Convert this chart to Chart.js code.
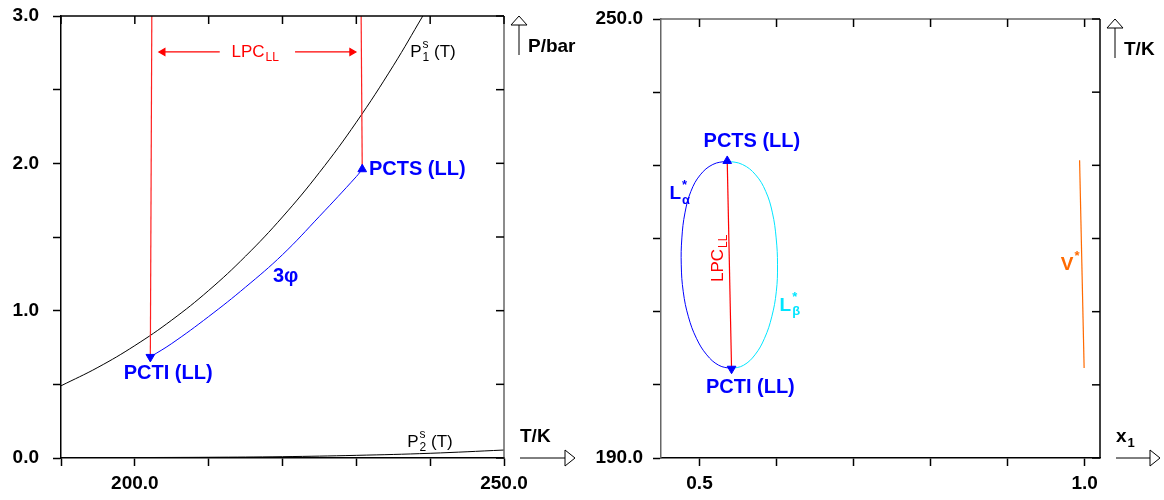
<!DOCTYPE html>
<html>
<head>
<meta charset="utf-8">
<script src="https://cdn.jsdelivr.net/npm/chart.js@4.4.1/dist/chart.umd.min.js"></script>
<style>
  body { margin: 0; background: #fff; }
  .box { position: absolute; top: 0; height: 500px; }
  #left { left: 0; width: 590px; }
  #right { left: 590px; width: 574px; }
</style>
</head>
<body>
<div class="box" id="left"><canvas id="pChart" width="590" height="500"></canvas></div>
<div class="box" id="right"><canvas id="tChart" width="574" height="500"></canvas></div>
<script>
const FONT = '"Liberation Sans", Arial, sans-serif';

// ---- left panel: P/bar against T/K ----
const tempTicks = [190, 200, 210, 220, 230, 240, 250];
const tempLabels = [200, 250];
const presTicks = [0, 0.5, 1, 1.5, 2, 2.5, 3];
const presLabels = [0, 1, 2, 3];

// vapour pressure of component 1
const p1Temp = [190, 195, 200, 205, 210, 215, 220, 225, 230, 235, 239];
const p1Pres = [0.49, 0.615, 0.763, 0.936, 1.137, 1.37, 1.636, 1.938, 2.279, 2.662, 3.0];
// vapour pressure of component 2
const p2Temp = [190, 200, 210, 220, 230, 240, 250];
const p2Pres = [0.001, 0.003, 0.005, 0.009, 0.018, 0.032, 0.054];
// three phase line
const threeTemp = [202.1, 205, 210, 215, 220, 225, 230, 230.8];
const threePres = [0.686, 0.777, 0.96, 1.16, 1.38, 1.64, 1.91, 1.96];
// LPC(LL) lines
const lpcLowT = [202.3, 202.1];
const lpcLowP = [3.0, 0.686];
const lpcHighT = [230.65, 230.8];
const lpcHighP = [3.0, 1.96];
// end points PCTI / PCTS
const endT = [202.1, 230.8];
const endP = [0.686, 1.96];

// ---- right panel: T/K against x1 ----
const xTicks = [0.5, 0.6, 0.7, 0.8, 0.9, 1.0];
const xLabels = [0.5, 1.0];
const tTicks = [190, 200, 210, 220, 230, 240, 250];
const tLabels = [190, 250];

const loopT = [230.6, 230.12, 228.7, 226.44, 223.5, 220.08, 216.4, 212.72, 209.3, 206.36, 204.1, 202.68, 202.2];
const alphaX = [0.536, 0.5173, 0.501, 0.4888, 0.4811, 0.4771, 0.4763, 0.4789, 0.4856, 0.496, 0.5094, 0.5249, 0.5416];
const betaX = [0.536, 0.5557, 0.5729, 0.586, 0.5947, 0.5995, 0.6013, 0.5997, 0.5938, 0.5844, 0.572, 0.5573, 0.5416];
const lpcX = [0.536, 0.5416];
const lpcT = [230.6, 202.2];
const vapX = [0.9935, 0.9994];
const vapT = [230.7, 202.3];

const pts = (xs, ys) => xs.map((v, i) => ({ x: v, y: ys[i] }));

function line(ctx, x0, y0, x1, y1) {
  ctx.beginPath(); ctx.moveTo(x0, y0); ctx.lineTo(x1, y1); ctx.stroke();
}

function richWidth(ctx, runs, size, weight) {
  let w = 0;
  runs.forEach(r => {
    if (r.t) {
      ctx.font = `${weight} ${size}px ${FONT}`;
      w += ctx.measureText(r.t).width;
    } else {
      ctx.font = `${weight} ${Math.round(size * 0.7)}px ${FONT}`;
      w += Math.max(ctx.measureText(r.sup || '').width, ctx.measureText(r.sub || '').width) + 1;
    }
  });
  return w;
}

function drawRich(ctx, x, y, runs, size, weight) {
  ctx.textBaseline = 'middle';
  ctx.textAlign = 'left';
  runs.forEach(r => {
    if (r.t) {
      ctx.font = `${weight} ${size}px ${FONT}`;
      ctx.fillText(r.t, x, y);
      x += ctx.measureText(r.t).width;
    } else {
      ctx.font = `${weight} ${Math.round(size * 0.7)}px ${FONT}`;
      if (r.sup) ctx.fillText(r.sup, x + 1, y - size * 0.42);
      if (r.sub) ctx.fillText(r.sub, x + 1, y + size * 0.32);
      x += Math.max(ctx.measureText(r.sup || '').width, ctx.measureText(r.sub || '').width) + 1;
    }
  });
}

function arrowUp(ctx, x, yStart, yTip) {
  line(ctx, x, yStart, x, yTip + 9);
  ctx.beginPath();
  ctx.moveTo(x, yTip); ctx.lineTo(x - 8, yTip + 9); ctx.lineTo(x + 8, yTip + 9); ctx.closePath();
  ctx.fillStyle = '#fff'; ctx.fill(); ctx.stroke();
}

function arrowRight(ctx, y, xStart, xTip) {
  line(ctx, xStart, y, xTip - 10, y);
  ctx.beginPath();
  ctx.moveTo(xTip, y); ctx.lineTo(xTip - 10, y - 8); ctx.lineTo(xTip - 10, y + 8); ctx.closePath();
  ctx.fillStyle = '#fff'; ctx.fill(); ctx.stroke();
}

// frame, inner ticks, axis arrows and text labels
const decor = {
  id: 'decor',
  afterDatasetsDraw(chart, args, o) {
    const { ctx, chartArea: a, scales: { x, y } } = chart;
    ctx.save();
    ctx.lineWidth = 1.5;
    ctx.strokeStyle = o.topColor;
    line(ctx, a.left, a.top, a.right, a.top);
    ctx.strokeStyle = o.rightColor;
    line(ctx, a.right, a.top, a.right, a.bottom);
    ctx.strokeStyle = '#000';
    x.ticks.forEach(t => { const px = x.getPixelForValue(t.value); line(ctx, px, a.top, px, a.top + 8); });
    y.ticks.forEach(t => { const py = y.getPixelForValue(t.value); line(ctx, a.right, py, a.right - 8, py); });

    // axis arrows
    ctx.lineWidth = 1;
    ctx.strokeStyle = '#000';
    arrowUp(ctx, a.right + 15, a.top + 39, a.top);
    arrowRight(ctx, a.bottom, a.right + 16, a.right + o.xArrowLen);
    ctx.fillStyle = '#000';
    drawRich(ctx, a.right + 24, a.top + 31, o.yName, 19, 'bold');
    drawRich(ctx, a.right + 16, a.bottom - 21, o.xName, 19, 'bold');

    o.labels.forEach(l => {
      const px = x.getPixelForValue(l.x);
      const py = y.getPixelForValue(l.y);
      const w = richWidth(ctx, l.runs, l.size, l.weight);
      ctx.fillStyle = l.color;
      if (l.rotate) {
        ctx.save();
        ctx.translate(px, py);
        ctx.rotate(-Math.PI / 2);
        drawRich(ctx, -w / 2, 0, l.runs, l.size, l.weight);
        ctx.restore();
      } else {
        drawRich(ctx, l.align === 'center' ? px - w / 2 : px, py, l.runs, l.size, l.weight);
      }
    });
    ctx.restore();
  }
};

function axis(min, max, ticks, labels, pad, fit, borderColor) {
  return {
    type: 'linear', min, max,
    afterBuildTicks: s => { s.ticks = ticks.map(v => ({ value: v })); },
    afterFit: s => {
      fit(s);
      // let layout.padding alone decide where the plot area sits
      s.paddingTop = s.paddingBottom = s.paddingLeft = s.paddingRight = 0;
    },
    ticks: {
      autoSkip: false, maxRotation: 0, padding: pad, color: '#000',
      font: { family: FONT, size: 19, weight: 'bold' },
      callback: v => labels.includes(v) ? v.toFixed(1) : ''
    },
    grid: { drawOnChartArea: false, tickLength: 8, tickColor: '#000', tickWidth: 1.5 },
    border: { color: borderColor, width: 1.5 }
  };
}

function lineSet(data, color, width, tension) {
  return { data, borderColor: color, borderWidth: width || 1, pointRadius: 0, showLine: true, tension: tension || 0, fill: false };
}

function markerSet(data, rotations) {
  return {
    data, showLine: false, pointStyle: 'triangle', pointRadius: 5,
    pointRotation: rotations, backgroundColor: '#0000ff', borderColor: '#0000ff', borderWidth: 1
  };
}

const common = {
  responsive: false,
  animation: false,
  events: [],
  plugins: { legend: { display: false }, tooltip: { enabled: false } }
};

const lpcY = 2.756;

new Chart(document.getElementById('pChart'), {
  type: 'scatter',
  data: {
    datasets: [
      markerSet(pts(endT, endP), [180, 0]),
      lineSet(pts(lpcLowT, lpcLowP), '#ff2020', 1.2),
      lineSet(pts(lpcHighT, lpcHighP), '#ff2020', 1.2),
      {
        data: pts([211.5, 203.8], [lpcY, lpcY]), showLine: true, borderColor: '#ff0000', borderWidth: 1.2,
        pointRadius: [0, 4], pointStyle: 'triangle', pointRotation: [0, -90], backgroundColor: '#ff0000'
      },
      {
        data: pts([221.7, 229.4], [lpcY, lpcY]), showLine: true, borderColor: '#ff0000', borderWidth: 1.2,
        pointRadius: [0, 4], pointStyle: 'triangle', pointRotation: [0, 90], backgroundColor: '#ff0000'
      },
      lineSet(pts(threeTemp, threePres), '#0000ff', 1, 0.4),
      lineSet(pts(p1Temp, p1Pres), '#000', 1, 0.4),
      lineSet(pts(p2Temp, p2Pres), '#000', 1, 0.4)
    ]
  },
  options: Object.assign({}, common, {
    layout: { padding: { top: 16, right: 86, bottom: 0, left: 0 } },
    scales: {
      x: axis(190, 250, tempTicks, tempLabels, 6, s => { s.height = 42; }, '#000'),
      y: axis(0, 3, presTicks, presLabels, 14, s => { s.width = 61; }, '#000')
    },
    plugins: Object.assign({}, common.plugins, {
      decor: {
        topColor: '#000', rightColor: '#666', xArrowLen: 71,
        yName: [{ t: 'P/bar' }], xName: [{ t: 'T/K' }],
        labels: [
          { x: 237.3, y: 2.756, runs: [{ t: 'P' }, { sup: 's', sub: '1' }, { t: ' (T)' }], size: 17, weight: 'normal', color: '#000' },
          { x: 236.9, y: 0.109, runs: [{ t: 'P' }, { sup: 's', sub: '2' }, { t: ' (T)' }], size: 17, weight: 'normal', color: '#000' },
          { x: 216.3, y: 2.756, runs: [{ t: 'LPC' }, { sub: 'LL' }], size: 17, weight: 'normal', color: '#ff0000', align: 'center' },
          { x: 231.7, y: 1.955, runs: [{ t: 'PCTS (LL)' }], size: 20, weight: 'bold', color: '#0000ff' },
          { x: 198.5, y: 0.577, runs: [{ t: 'PCTI (LL)' }], size: 20, weight: 'bold', color: '#0000ff' },
          { x: 218.7, y: 1.229, runs: [{ t: '3φ' }], size: 20, weight: 'bold', color: '#0000ff' }
        ]
      }
    })
  }),
  plugins: [decor]
});

new Chart(document.getElementById('tChart'), {
  type: 'scatter',
  data: {
    datasets: [
      markerSet(pts(lpcX, lpcT), [0, 180]),
      lineSet(pts(lpcX, lpcT), '#ff0000', 1.2),
      lineSet(pts(alphaX, loopT), '#0000ff', 1, 0.4),
      lineSet(pts(betaX, loopT), '#00e5ff', 1, 0.4),
      lineSet(pts(vapX, vapT), '#ff6a00', 1.2)
    ]
  },
  options: Object.assign({}, common, {
    layout: { padding: { top: 19, right: 64, bottom: 0, left: 0 } },
    scales: {
      x: axis(0.45, 1.02, xTicks, xLabels, 6, s => { s.height = 42; }, '#000'),
      y: axis(190, 250, tTicks, tLabels, 10, s => { s.width = 71; }, '#666')
    },
    plugins: Object.assign({}, common.plugins, {
      decor: {
        topColor: '#666', rightColor: '#000', xArrowLen: 60,
        yName: [{ t: 'T/K' }], xName: [{ t: 'x' }, { sub: '1' }],
        labels: [
          { x: 0.568, y: 233.2, runs: [{ t: 'PCTS (LL)' }], size: 20, weight: 'bold', color: '#0000ff', align: 'center' },
          { x: 0.566, y: 199.7, runs: [{ t: 'PCTI (LL)' }], size: 20, weight: 'bold', color: '#0000ff', align: 'center' },
          { x: 0.461, y: 226.1, runs: [{ t: 'L' }, { sup: '*', sub: 'α' }], size: 19, weight: 'bold', color: '#0000ff' },
          { x: 0.604, y: 210.8, runs: [{ t: 'L' }, { sup: '*', sub: 'β' }], size: 19, weight: 'bold', color: '#00e5ff' },
          { x: 0.969, y: 216.4, runs: [{ t: 'V' }, { sup: '*' }], size: 19, weight: 'bold', color: '#ff6a00' },
          { x: 0.5247, y: 217.3, runs: [{ t: 'LPC' }, { sub: 'LL' }], size: 17, weight: 'normal', color: '#ff0000', rotate: true }
        ]
      }
    })
  }),
  plugins: [decor]
});
</script>
</body>
</html>
